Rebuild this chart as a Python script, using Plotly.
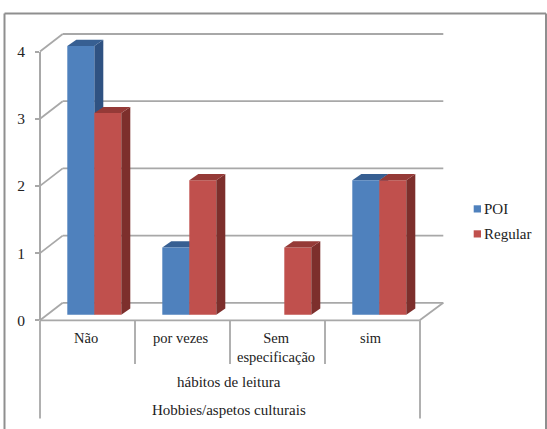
import plotly.graph_objects as go

# Survey counts
categories = ["Não", "por vezes", "Sem<br>especificação", "sim"]
poi_values = [4, 1, 0, 2]
regular_values = [3, 2, 1, 2]
y_ticks = [0, 1, 2, 3, 4]
series_names = ["POI", "Regular"]
group_label = "hábitos de leitura"
outer_label = "Hobbies/aspetos culturais"

W, H = 547, 429
X_ORIGIN, X_UNIT = 94.3, 95.0    # pixel of the first group's centre, pixels per category
Y_ORIGIN, Y_UNIT = 314.7, 67.2   # pixel of the bars' base, pixels per value unit
BAR_W = 27.0

BLUE, BLUE_TOP, BLUE_SIDE = "#4f81bd", "#375f92", "#2f5282"
RED, RED_TOP, RED_SIDE = "#c0504d", "#953a37", "#7d2f2c"
GREY = "#a8a8a8"
FRAME = "#8f8f8f"
INK = "#222222"
FONT = "Liberation Serif"


def ux(px):
    return (px - X_ORIGIN) / X_UNIT


def uy(px):
    return (Y_ORIGIN - px) / Y_UNIT


def seg(x0, y0, x1, y1, color=GREY, width=1.8):
    return dict(type="line", xref="x", yref="y", x0=ux(x0), y0=uy(y0), x1=ux(x1), y1=uy(y1),
                line=dict(color=color, width=width), layer="below")


def poly(points, color, layer):
    path = "M" + " L".join(f"{x:.4f},{y:.4f}" for x, y in points) + " Z"
    return dict(type="path", xref="x", yref="y", path=path, fillcolor=color,
                line=dict(width=0), layer=layer)


def box_faces(centre, value, top_color, side_color, layer):
    """Top and right faces of an extruded bar, placed from its category and value."""
    dx, dy = 9 / X_UNIT, 6.2 / Y_UNIT
    half = BAR_W / X_UNIT
    left, right = centre - half, centre
    if layer == "above":
        left, right = centre, centre + half
    top = poly([(left, value), (left + dx, value + dy), (right + dx, value + dy), (right, value)],
               top_color, layer)
    side = poly([(right, 0), (right + dx, dy), (right + dx, value + dy), (right, value)],
                side_color, layer)
    return [side, top]


shapes = []

# Outer chart frame
for x0, y0, x1, y1 in [(4.5, 13.5, 546, 13.5), (4.5, 13.5, 4.5, 429), (546, 13.5, 546, 429)]:
    shapes.append(dict(type="line", xref="paper", yref="paper", x0=x0 / W, x1=x1 / W,
                       y0=1 - y0 / H, y1=1 - y1 / H, line=dict(color=FRAME, width=2), layer="below"))

# Back wall gridlines and the diagonals joining them to the front axis
for v in y_ticks:
    front_y = 320.3 - Y_UNIT * v
    back_y = 302.8 - Y_UNIT * v
    shapes.append(seg(40, front_y, 62.7, back_y))
    shapes.append(seg(62.7, back_y, 443.3, back_y))

# Floor front edge and right diagonal
shapes.append(seg(40, 320.3, 419.7, 320.3))
shapes.append(seg(419.7, 320.3, 443.3, 302.8))

# Category separators beneath the floor
for k in range(len(categories) + 1):
    px = 40 + X_UNIT * k
    shapes.append(seg(px, 320.3, px, 418.5 if k in (0, len(categories)) else 364))

# Extruded faces: POI faces sit behind the bars, Regular faces in front of them
for i, v in enumerate(poi_values):
    if v:
        shapes += box_faces(i, v, BLUE_TOP, BLUE_SIDE, "below")
for i, v in enumerate(regular_values):
    if v:
        shapes += box_faces(i, v, RED_TOP, RED_SIDE, "above")

# Legend swatches
shapes.append(dict(type="rect", xref="paper", yref="paper", x0=473.7 / W, x1=481 / W,
                   y0=1 - 212.5 / H, y1=1 - 205.3 / H, fillcolor=BLUE, line=dict(width=0)))
shapes.append(dict(type="rect", xref="paper", yref="paper", x0=473.7 / W, x1=481 / W,
                   y0=1 - 237.5 / H, y1=1 - 230.3 / H, fillcolor=RED, line=dict(width=0)))

x_idx = list(range(len(categories)))
fig = go.Figure()
fig.add_trace(go.Bar(x=x_idx, y=poi_values, name=series_names[0], marker=dict(color=BLUE, line=dict(width=0))))
fig.add_trace(go.Bar(x=x_idx, y=regular_values, name=series_names[1], marker=dict(color=RED, line=dict(width=0))))
# Carries the value axis drawn on the front plane
fig.add_trace(go.Scatter(x=[0], y=[0], yaxis="y2", mode="markers", marker=dict(opacity=0), hoverinfo="skip"))


def label(text, px, py, size=14.5, anchor="center"):
    return dict(text=text, x=ux(px), y=uy(py), xref="x", yref="y", showarrow=False,
                xanchor=anchor, yanchor="middle", font=dict(family=FONT, size=size, color=INK),
                align="center")


annotations = []
for k, name in enumerate(categories):
    annotations.append(label(name, 86 + X_UNIT * k, 347 if "<br>" in name else 338))
annotations.append(label(group_label, 228.5, 382, size=15))
annotations.append(label(outer_label, 228.5, 410, size=15))
annotations.append(label(series_names[0], 481.5, 209, size=15, anchor="left"))
annotations.append(label(series_names[1], 481.5, 234, size=15, anchor="left"))

fig.update_layout(
    width=W, height=H, margin=dict(l=0, r=0, t=0, b=0, autoexpand=False),
    paper_bgcolor="white", plot_bgcolor="rgba(0,0,0,0)",
    barmode="group", bargap=1 - 2 * BAR_W / X_UNIT, bargroupgap=0,
    showlegend=False, shapes=shapes, annotations=annotations,
    xaxis=dict(range=[ux(0), ux(W)], visible=False, domain=[0, 1], anchor="y"),
    yaxis=dict(range=[uy(H), uy(0)], visible=False, domain=[0, 1]),
    yaxis2=dict(
        range=[0, 4], domain=[1 - 320.3 / H, 1 - 51.5 / H], anchor="free", position=40 / W, side="left",
        tickvals=y_ticks, showgrid=False, zeroline=False, showline=True, linecolor=GREY, linewidth=1.8,
        ticks="outside", ticklen=4, tickcolor=GREY, tickwidth=1.8, ticklabelstandoff=7,
        tickfont=dict(family=FONT, size=15.5, color=INK),
    ),
)

fig.write_html("out.html")
